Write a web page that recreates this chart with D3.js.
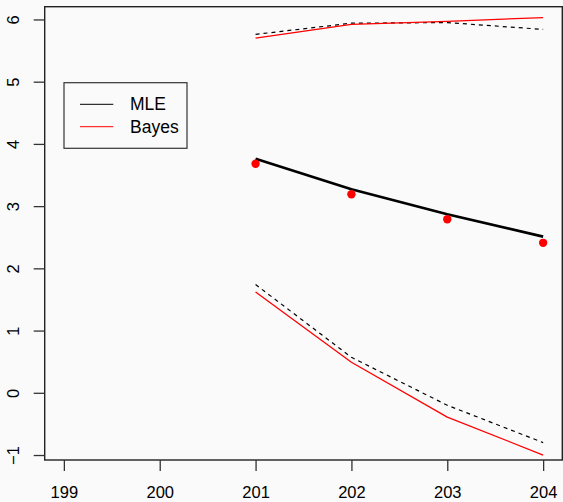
<!DOCTYPE html>
<html>
<head>
<meta charset="utf-8">
<script src="https://cdn.jsdelivr.net/npm/d3@7"></script>
<style>
  html, body { margin: 0; padding: 0; background: #fafafa; }
  svg { display: block; font-family: "Liberation Sans", Arial, Helvetica, sans-serif; }
</style>
</head>
<body>
<svg id="chart" width="563" height="502"></svg>
<script>
// ---- data ----
const years = [201, 202, 203, 204];
const mleEstimate = [3.76, 3.27, 2.87, 2.51];
const observed = [3.68, 3.19, 2.79, 2.41];
const mleUpper = [5.76, 5.94, 5.95, 5.84];
const mleLower = [1.74, 0.57, -0.20, -0.80];
const bayesUpper = [5.70, 5.92, 5.97, 6.03];
const bayesLower = [1.62, 0.49, -0.39, -1.00];
const xTicks = [199, 200, 201, 202, 203, 204];
const yTicks = [-1, 0, 1, 2, 3, 4, 5, 6];
const legendLabels = ["MLE", "Bayes"];
const legendColors = ["#000000", "#ff0000"];

// ---- layout ----
const svg = d3.select("#chart");
const box = { left: 44.7, right: 562.3, top: 6.7, bottom: 460 };
const x = d3.scaleLinear().domain([198.8, 204.2]).range([box.left, box.right]);
const y = d3.scaleLinear().domain([-1.08, 6.205]).range([box.bottom, box.top]);

svg.append("rect").attr("width", 563).attr("height", 502).attr("fill", "#fafafa");

const line = d3.line().x((d, i) => x(years[i])).y(d => y(d));

function drawLine(vals, color, width, dash) {
  svg.append("path")
    .datum(vals)
    .attr("d", line)
    .attr("fill", "none")
    .attr("stroke", color)
    .attr("stroke-width", width)
    .attr("stroke-dasharray", dash || null)
    .attr("stroke-linejoin", "round");
}
drawLine(mleUpper, "#000", 1.2, "4,4");
drawLine(mleLower, "#000", 1.2, "4,4");
drawLine(bayesUpper, "#ff0000", 1.3);
drawLine(bayesLower, "#ff0000", 1.3);
drawLine(mleEstimate, "#000", 2.6);

svg.selectAll("circle.obs")
  .data(observed)
  .enter().append("circle")
  .attr("class", "obs")
  .attr("cx", (d, i) => x(years[i]))
  .attr("cy", d => y(d))
  .attr("r", 4.2)
  .attr("fill", "#ff0000");

// box
svg.append("rect")
  .attr("x", box.left).attr("y", box.top)
  .attr("width", box.right - box.left).attr("height", box.bottom - box.top)
  .attr("fill", "none").attr("stroke", "#222").attr("stroke-width", 1.4);

// x axis
const xAxis = svg.append("g")
  .attr("transform", `translate(0,${box.bottom})`)
  .call(d3.axisBottom(x).tickValues(xTicks).tickSize(11).tickFormat(d3.format("d")));
xAxis.select(".domain").remove();
xAxis.selectAll(".tick line").attr("stroke", "#333").attr("stroke-width", 1.3);
xAxis.selectAll(".tick text")
  .attr("y", 38).attr("dy", null)
  .attr("font-size", 16.5).attr("fill", "#000")
  .attr("font-family", "Liberation Sans, Arial, sans-serif");

// y axis
const yAxis = svg.append("g")
  .attr("transform", `translate(${box.left},0)`)
  .call(d3.axisLeft(y).tickValues(yTicks).tickSize(11).tickFormat(d => d < 0 ? "\u2212" + Math.abs(d) : d));
yAxis.select(".domain").remove();
yAxis.selectAll(".tick line").attr("stroke", "#333").attr("stroke-width", 1.3);
yAxis.selectAll(".tick text")
  .attr("x", null).attr("dy", null)
  .attr("text-anchor", "middle")
  .attr("transform", "translate(-26,0) rotate(-90)")
  .attr("y", 0)
  .attr("font-size", 16.5).attr("fill", "#000")
  .attr("font-family", "Liberation Sans, Arial, sans-serif");

// legend
const lg = svg.append("g");
lg.append("rect")
  .attr("x", 64).attr("y", 82.7).attr("width", 123).attr("height", 65.6)
  .attr("fill", "#fafafa").attr("stroke", "#333").attr("stroke-width", 1.2);
legendLabels.forEach((lab, i) => {
  const yy = 104.3 + i * 22.4;
  lg.append("line").attr("x1", 80).attr("x2", 113.3).attr("y1", yy).attr("y2", yy)
    .attr("stroke", legendColors[i]).attr("stroke-width", 1);
  lg.append("text").attr("x", 130).attr("y", yy + 6).attr("font-size", 17.5)
    .attr("fill", "#000").text(lab);
});
</script>
</body>
</html>
